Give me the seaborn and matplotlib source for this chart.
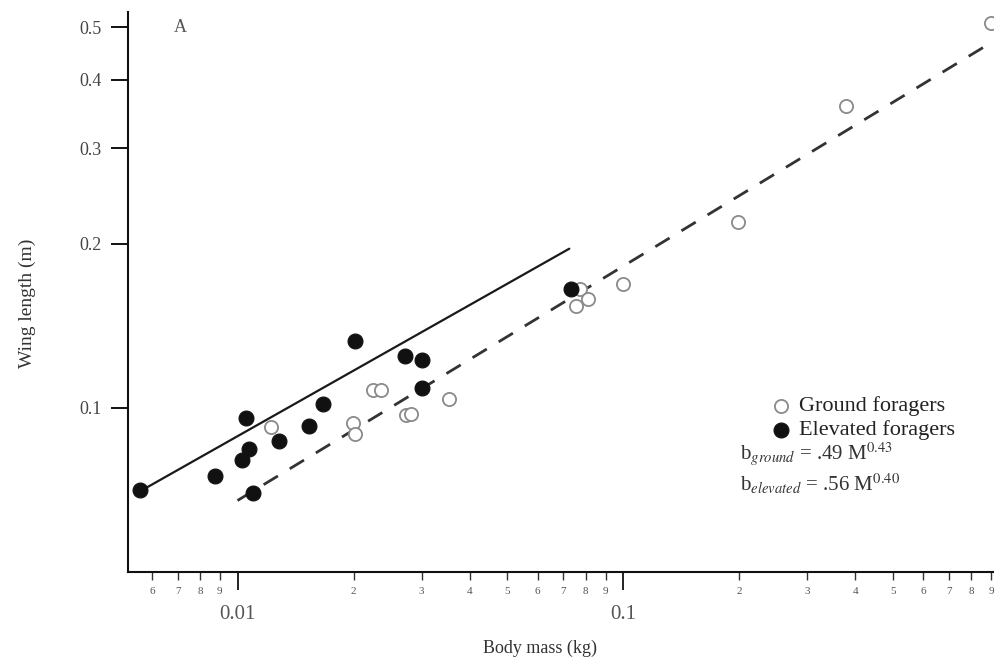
import numpy as np
import pandas as pd
import matplotlib
matplotlib.use("Agg")
import matplotlib.pyplot as plt
from matplotlib.ticker import FixedLocator, FixedFormatter, NullLocator
import seaborn as sns

# ---- data ----
elev_mass = [0.00557, 0.00872, 0.0105, 0.0103, 0.0107, 0.0110, 0.0128, 0.0153,
             0.0167, 0.0202, 0.0272, 0.0301, 0.0301, 0.0733]
elev_wing = [0.0707, 0.0750, 0.0958, 0.0803, 0.0841, 0.0698, 0.0870, 0.0927,
             0.1017, 0.1327, 0.1246, 0.1225, 0.1088, 0.1653]
ground_mass = [0.0122, 0.0199, 0.0202, 0.0225, 0.0236, 0.0274, 0.0282, 0.0354,
               0.0756, 0.0775, 0.0810, 0.100, 0.199, 0.378, 0.898]
ground_wing = [0.0923, 0.0939, 0.0896, 0.1079, 0.1079, 0.0971, 0.0975, 0.1038,
               0.1538, 0.1650, 0.1585, 0.1689, 0.2193, 0.358, 0.509]
fit_ground = (0.49, 0.43)      # coefficient, exponent
fit_elev = (0.56, 0.40)
ground_range = [0.01, 0.89]
elev_range = [0.00557, 0.0725]

y_ticks = [0.1, 0.2, 0.3, 0.4, 0.5]
x_major = [0.01, 0.1]
x_minor = [0.006, 0.007, 0.008, 0.009, 0.02, 0.03, 0.04, 0.05, 0.06, 0.07, 0.08, 0.09,
           0.2, 0.3, 0.4, 0.5, 0.6, 0.7, 0.8, 0.9]

sns.set_style("white")
plt.rcParams['font.family'] = ['Liberation Serif', 'DejaVu Serif']
plt.rcParams['mathtext.fontset'] = 'stix'

fig = plt.figure(figsize=(10.02, 6.69), dpi=100)
ax = fig.add_axes([128/1002, 1-572/669, 865/1002, 560/669])

df_e = pd.DataFrame({"mass": elev_mass, "wing": elev_wing})
df_g = pd.DataFrame({"mass": ground_mass, "wing": ground_wing})

# fit lines
gx = np.array(ground_range)
ex = np.array(elev_range)
df_gl = pd.DataFrame({"mass": gx, "wing": fit_ground[0] * gx ** fit_ground[1]})
df_el = pd.DataFrame({"mass": ex, "wing": fit_elev[0] * ex ** fit_elev[1]})
sns.lineplot(data=df_el, x="mass", y="wing", ax=ax, color="#1a1a1a", lw=1.6)
sns.lineplot(data=df_gl, x="mass", y="wing", ax=ax, color="#333333", lw=2.0,
             dashes=False, linestyle=(0, (6, 5)))

sns.scatterplot(data=df_g, x="mass", y="wing", ax=ax, s=90, facecolor="white",
                edgecolor="#8a8a8a", linewidth=1.3, label="Ground foragers", zorder=3)
sns.scatterplot(data=df_e, x="mass", y="wing", ax=ax, s=115, color="#111111",
                edgecolor="#111111", linewidth=0.8, label="Elevated foragers", zorder=4)

ax.set_xscale("log")
ax.set_yscale("log")
ax.set_xlim(0.0052, 0.91)
ax.set_ylim(0.05, 0.533)

for s in ["top", "right"]:
    ax.spines[s].set_visible(False)
for s in ["left", "bottom"]:
    ax.spines[s].set_linewidth(1.5)
    ax.spines[s].set_color("#111111")

ax.yaxis.set_major_locator(FixedLocator(y_ticks))
ax.yaxis.set_major_formatter(FixedFormatter([str(v) for v in y_ticks]))
ax.yaxis.set_minor_locator(NullLocator())
ax.tick_params(axis="y", which="major", direction="out", length=12, width=1.4,
               pad=7, labelsize=13, colors="#111111", labelcolor="#444444", left=True)

ax.xaxis.set_major_locator(FixedLocator(x_major))
ax.xaxis.set_major_formatter(FixedFormatter(["0.01", "0.1"]))
ax.xaxis.set_minor_locator(FixedLocator(x_minor))
ax.xaxis.set_minor_formatter(FixedFormatter([f"{v:g}"[-1] for v in x_minor]))
ax.tick_params(axis="x", which="major", direction="out", length=13, width=1.3,
               pad=11, labelsize=15, colors="#111111", labelcolor="#555555", bottom=True)
ax.tick_params(axis="x", which="minor", direction="out", length=6, width=1.0,
               pad=5, labelsize=8, colors="#333333", labelcolor="#555555", bottom=True)

ax.set_xlabel("Body mass (kg)", fontsize=13, color="#333333")
ax.xaxis.set_label_coords((540-128)/865, (572-640)/560)
ax.set_ylabel("Wing length (m)", fontsize=14, color="#333333")
ax.yaxis.set_label_coords((36-128)/865, 0.48)

ax.text(0.06, 0.972, "A", transform=ax.transAxes, fontsize=13, color="#555555",
        ha="center", va="center")

leg = ax.legend(loc="upper left", bbox_to_anchor=((761-128)/865, (572-387)/560),
                frameon=False, fontsize=16, handletextpad=0.3, labelspacing=0.15,
                borderaxespad=0, handlelength=1.0)
for t in leg.get_texts():
    t.set_color("#222222")

ax.text((740-128)/865, (572-454)/560,
        r"b$_{ground}$ = .49 M$^{0.43}$", transform=ax.transAxes,
        fontsize=15, color="#333333", ha="left", va="center")
ax.text((740-128)/865, (572-484)/560,
        r"b$_{elevated}$ = .56 M$^{0.40}$", transform=ax.transAxes,
        fontsize=15, color="#333333", ha="left", va="center")

fig.savefig("out.png", dpi=100, facecolor="white")
